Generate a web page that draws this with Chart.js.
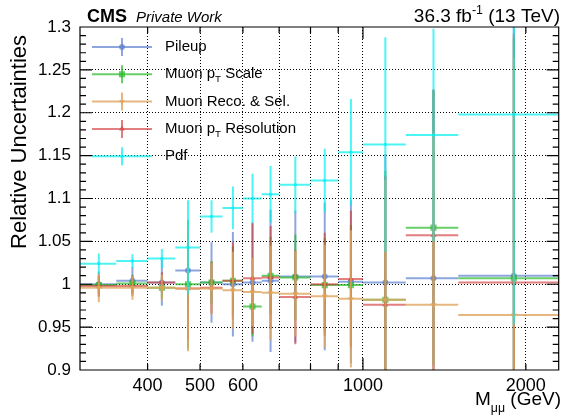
<!DOCTYPE html>
<html lang="en">
<head>
<meta charset="UTF-8">
<title>Relative Uncertainties</title>
<script src="https://cdn.jsdelivr.net/npm/chart.js"></script>
<style>
  html, body { margin: 0; padding: 0; background: #fff; }
  canvas { display: block; }
</style>
</head>
<body>
<canvas id="grafica" width="563" height="416"></canvas>
<script>
// M_mumu bin edges (GeV)
var binEdges = [300, 350, 400, 450, 500, 550, 600, 650, 700, 800, 900, 1000, 1200, 1500, 2300];

// relative uncertainty per bin
var pileup     = [1.000, 1.004, 1.002, 1.016, 1.002, 1.000, 1.002, 1.004, 1.009, 1.009, 1.003, 1.002, 1.007, 1.010];
var ptScale    = [0.999, 1.001, 0.996, 1.000, 1.002, 1.004, 0.974, 1.010, 1.008, 0.999, 0.999, 0.982, 1.066, 1.007];
var recoSel    = [0.996, 0.996, 0.996, 0.995, 0.995, 0.993, 0.991, 0.990, 0.989, 0.986, 0.983, 0.982, 0.976, 0.964];
var ptRes      = [0.998, 0.998, 1.002, 0.995, 0.996, 1.004, 1.007, 1.008, 0.985, 1.000, 1.006, 0.976, 1.057, 1.002];
var pdf        = [1.024, 1.027, 1.030, 1.043, 1.079, 1.089, 1.100, 1.105, 1.116, 1.121, 1.154, 1.163, 1.174, 1.198];

// vertical error bars
var pileupErr  = [0.015, 0.016, 0.027, 0.045, 0.047, 0.061, 0.069, 0.083, 0.077, 0.086, 0.095, 0.15, 0.22, 0.29];
var ptScaleErr = [0.010, 0.010, 0.012, 0.075, 0.025, 0.040, 0.035, 0.045, 0.050, 0.055, 0.070, 0.15, 0.16, 0.28];
var recoSelErr = [0.017, 0.014, 0.015, 0.073, 0.030, 0.045, 0.040, 0.055, 0.050, 0.060, 0.080, 0.14, 0.20, 0.30];
var ptResErr   = [0.012, 0.012, 0.012, 0.060, 0.030, 0.045, 0.065, 0.060, 0.055, 0.060, 0.080, 0.15, 0.17, 0.29];
var pdfErr     = [0.012, 0.008, 0.011, 0.055, 0.019, 0.025, 0.029, 0.033, 0.033, 0.037, 0.062, 0.125, 0.124, 0.245];

// axis ticks
var xGridValues  = [400, 500, 600, 700, 800, 900, 1000, 2000];
var xLabelValues = [400, 500, 600, 1000, 2000];

var FONT = '"Liberation Sans", Arial, Helvetica, sans-serif';
Chart.defaults.font.family = FONT;
Chart.defaults.color = '#000';

// order: lower number is drawn on top
var series = [
  { name: [['Pileup']], values: pileup, errors: pileupErr,
    color: 'rgba(80,120,205,0.65)', marker: 'circle', size: 3, rot: 0, order: 50 },
  { name: [['Muon p'], ['T', 'sub'], [' Scale']], values: ptScale, errors: ptScaleErr,
    color: 'rgba(40,185,40,0.7)', marker: 'rect', size: 4.3, rot: 0, order: 40 },
  { name: [['Muon Reco. & Sel.']], values: recoSel, errors: recoSelErr,
    color: 'rgba(222,165,95,0.8)', marker: 'triangle', size: 3.4, rot: 180, order: 20 },
  { name: [['Muon p'], ['T', 'sub'], [' Resolution']], values: ptRes, errors: ptResErr,
    color: 'rgba(210,60,60,0.65)', marker: 'triangle', size: 3.4, rot: 0, order: 30 },
  { name: [['Pdf']], values: pdf, errors: pdfErr,
    color: 'rgba(0,240,240,0.7)', marker: 'circle', size: 1.8, rot: 0, order: 10 }
];

var centers = [];
for (var i = 0; i < binEdges.length - 1; i++) {
  centers.push((binEdges[i] + binEdges[i + 1]) / 2);
}

// horizontal bin width + vertical error, separated by gaps
function errorPoints(values, errors) {
  var pts = [];
  values.forEach(function (v, k) {
    pts.push({ x: binEdges[k], y: v }, { x: binEdges[k + 1], y: v }, { x: binEdges[k + 1], y: null });
    pts.push({ x: centers[k], y: v - errors[k] }, { x: centers[k], y: v + errors[k] }, { x: centers[k], y: null });
  });
  return pts;
}

var datasets = [];
series.forEach(function (s) {
  datasets.push({
    data: errorPoints(s.values, s.errors),
    showLine: true,
    spanGaps: false,
    pointRadius: 0,
    borderColor: s.color,
    borderWidth: 2,
    order: s.order + 1
  });
  datasets.push({
    data: centers.map(function (c, k) { return { x: c, y: s.values[k] }; }),
    pointStyle: s.marker,
    pointRadius: s.size,
    pointRotation: s.rot,
    backgroundColor: s.color,
    borderColor: s.color,
    borderWidth: 0,
    order: s.order
  });
});

// draws a run of text pieces with sub/superscripts
function richText(ctx, parts, x, y, size, style) {
  var cx = x;
  parts.forEach(function (p) {
    var small = p[1] === 'sub' || p[1] === 'sup';
    var fs = small ? size * 0.65 : size;
    ctx.font = (style || '') + ' ' + fs + 'px ' + FONT;
    var dy = p[1] === 'sub' ? size * 0.35 : (p[1] === 'sup' ? -size * 0.38 : 0);
    ctx.fillText(p[0], cx, y + dy);
    cx += ctx.measureText(p[0]).width;
  });
  return cx - x;
}
function richWidth(ctx, parts, size, style) {
  var w = 0;
  parts.forEach(function (p) {
    var small = p[1] === 'sub' || p[1] === 'sup';
    ctx.font = (style || '') + ' ' + (small ? size * 0.65 : size) + 'px ' + FONT;
    w += ctx.measureText(p[0]).width;
  });
  return w;
}

function drawMarker(ctx, s, x, y) {
  ctx.fillStyle = s.color;
  ctx.beginPath();
  if (s.marker === 'circle') {
    ctx.arc(x, y, s.size, 0, Math.PI * 2);
  } else if (s.marker === 'rect') {
    var h = s.size * Math.SQRT1_2;
    ctx.rect(x - h, y - h, 2 * h, 2 * h);
  } else {
    var r = s.size, d = s.rot ? -1 : 1;
    ctx.moveTo(x, y - d * r);
    ctx.lineTo(x - r * 0.866, y + d * r * 0.5);
    ctx.lineTo(x + r * 0.866, y + d * r * 0.5);
    ctx.closePath();
  }
  ctx.fill();
}

var legendPlugin = {
  id: 'rootLegend',
  afterDatasetsDraw: function (chart) {
    var ctx = chart.ctx;
    ctx.save();
    series.forEach(function (s, i) {
      var y = 47 + i * 27.3;
      ctx.strokeStyle = s.color;
      ctx.lineWidth = 2;
      ctx.beginPath();
      ctx.moveTo(92, y); ctx.lineTo(152, y);
      ctx.moveTo(122, y - 9); ctx.lineTo(122, y + 9);
      ctx.stroke();
      drawMarker(ctx, s, 122, y);
      ctx.fillStyle = '#000';
      ctx.textBaseline = 'middle';
      ctx.textAlign = 'left';
      richText(ctx, s.name, 165, y, 15);
    });
    ctx.restore();
  }
};

var framePlugin = {
  id: 'frame',
  afterDraw: function (chart) {
    var ctx = chart.ctx, a = chart.chartArea, xs = chart.scales.x, ys = chart.scales.y;
    ctx.save();
    ctx.strokeStyle = '#000';
    ctx.lineWidth = 1.2;
    ctx.beginPath();
    ctx.rect(a.left, a.top, a.right - a.left, a.bottom - a.top);
    for (var v = 90; v <= 130; v++) {
      var py = ys.getPixelForValue(v / 100);
      var len = v % 5 === 0 ? 12 : 6;
      ctx.moveTo(a.left, py); ctx.lineTo(a.left + len, py);
      ctx.moveTo(a.right, py); ctx.lineTo(a.right - len, py);
    }
    xGridValues.forEach(function (m) {
      var px = xs.getPixelForValue(m);
      var len = m === 1000 ? 12 : 6;
      ctx.moveTo(px, a.bottom); ctx.lineTo(px, a.bottom - len);
      ctx.moveTo(px, a.top); ctx.lineTo(px, a.top + len);
    });
    ctx.stroke();

    // axis titles and header
    ctx.fillStyle = '#000';
    ctx.textBaseline = 'alphabetic';
    ctx.textAlign = 'left';

    var xt = [['M'], ['\u03bc\u03bc', 'sub'], [' (GeV)']];
    richText(ctx, xt, 561 - richWidth(ctx, xt, 19), 405, 19);

    ctx.save();
    ctx.translate(20, 35);
    ctx.rotate(-Math.PI / 2);
    ctx.textAlign = 'right';
    ctx.textBaseline = 'middle';
    ctx.font = '22px ' + FONT;
    ctx.fillText('Relative Uncertainties', 0, 0);
    ctx.restore();

    ctx.font = 'bold 18px ' + FONT;
    ctx.fillText('CMS', 87, 21.5);
    ctx.font = 'italic 15px ' + FONT;
    ctx.fillText('Private Work', 136, 21.5);

    var lumi = [['36.3 fb'], ['-1', 'sup'], [' (13 TeV)']];
    richText(ctx, lumi, 560 - richWidth(ctx, lumi, 19), 21.5, 19);
    ctx.restore();
  }
};

new Chart(document.getElementById('grafica'), {
  type: 'scatter',
  data: { datasets: datasets },
  options: {
    responsive: false,
    animation: false,
    events: [],
    layout: { padding: { top: 27, right: 1, left: 0, bottom: 0 } },
    plugins: { legend: { display: false }, tooltip: { enabled: false } },
    scales: {
      x: {
        type: 'logarithmic',
        min: 300,
        max: 2300,
        afterBuildTicks: function (scale) {
          scale.ticks = xGridValues.map(function (v) { return { value: v }; });
        },
        afterFit: function (scale) { scale.height = 46; },
        ticks: {
          autoSkip: false,
          maxRotation: 0,
          padding: 5,
          font: { size: 18 },
          callback: function (v) { return xLabelValues.indexOf(v) >= 0 ? String(v) : ''; }
        },
        grid: { drawTicks: false, color: '#000', lineWidth: 1 },
        border: { display: false, dash: [1, 2] }
      },
      y: {
        min: 0.9,
        max: 1.3,
        afterFit: function (scale) { scale.width = 80; },
        ticks: {
          stepSize: 0.05,
          padding: 9,
          font: { size: 17 },
          callback: function (v) { return String(parseFloat(v.toFixed(2))); }
        },
        grid: {
          drawTicks: false,
          lineWidth: 1,
          color: function (c) {
            var v = c.tick ? Math.round(c.tick.value * 100) : 0;
            return (v === 90 || v === 130) ? 'rgba(0,0,0,0)' : '#000';
          }
        },
        border: { display: false, dash: [1, 2] }
      }
    }
  },
  plugins: [legendPlugin, framePlugin]
});
</script>
</body>
</html>
